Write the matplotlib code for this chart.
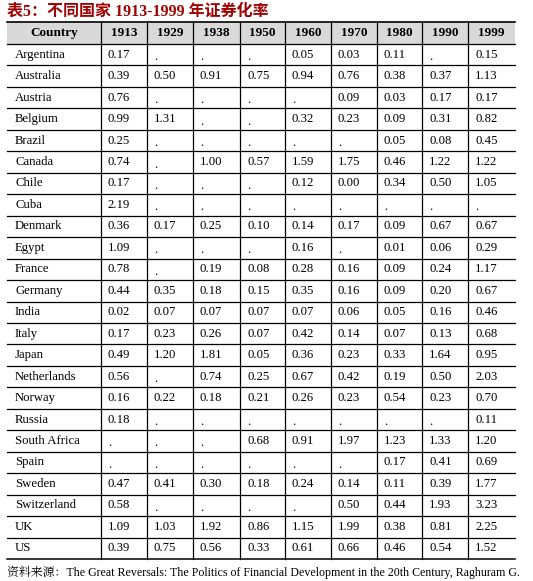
import matplotlib.pyplot as plt

countries = ["Argentina", "Australia", "Austria", "Belgium", "Brazil", "Canada", "Chile",
             "Cuba", "Denmark", "Egypt", "France", "Germany", "India", "Italy", "Japan",
             "Netherlands", "Norway", "Russia", "South Africa", "Spain", "Sweden",
             "Switzerland", "UK", "US"]
years = ["1913", "1929", "1938", "1950", "1960", "1970", "1980", "1990", "1999"]
N = None
v1913 = [0.17, 0.39, 0.76, 0.99, 0.25, 0.74, 0.17, 2.19, 0.36, 1.09, 0.78, 0.44, 0.02, 0.17, 0.49, 0.56, 0.16, 0.18, N, N, 0.47, 0.58, 1.09, 0.39]
v1929 = [N, 0.50, N, 1.31, N, N, N, N, 0.17, N, N, 0.35, 0.07, 0.23, 1.20, N, 0.22, N, N, N, 0.41, N, 1.03, 0.75]
v1938 = [N, 0.91, N, N, N, 1.00, N, N, 0.25, N, 0.19, 0.18, 0.07, 0.26, 1.81, 0.74, 0.18, N, N, N, 0.30, N, 1.92, 0.56]
v1950 = [N, 0.75, N, N, N, 0.57, N, N, 0.10, N, 0.08, 0.15, 0.07, 0.07, 0.05, 0.25, 0.21, N, 0.68, N, 0.18, N, 0.86, 0.33]
v1960 = [0.05, 0.94, N, 0.32, N, 1.59, 0.12, N, 0.14, 0.16, 0.28, 0.35, 0.07, 0.42, 0.36, 0.67, 0.26, N, 0.91, N, 0.24, N, 1.15, 0.61]
v1970 = [0.03, 0.76, 0.09, 0.23, N, 1.75, 0.00, N, 0.17, N, 0.16, 0.16, 0.06, 0.14, 0.23, 0.42, 0.23, N, 1.97, N, 0.14, 0.50, 1.99, 0.66]
v1980 = [0.11, 0.38, 0.03, 0.09, 0.05, 0.46, 0.34, N, 0.09, 0.01, 0.09, 0.09, 0.05, 0.07, 0.33, 0.19, 0.54, N, 1.23, 0.17, 0.11, 0.44, 0.38, 0.46]
v1990 = [N, 0.37, 0.17, 0.31, 0.08, 1.22, 0.50, N, 0.67, 0.06, 0.24, 0.20, 0.16, 0.13, 1.64, 0.50, 0.23, N, 1.33, 0.41, 0.39, 1.93, 0.81, 0.54]
v1999 = [0.15, 1.13, 0.17, 0.82, 0.45, 1.22, 1.05, N, 0.67, 0.29, 1.17, 0.67, 0.46, 0.68, 0.95, 2.03, 0.70, 0.11, 1.20, 0.69, 1.77, 3.23, 2.25, 1.52]
columns = [v1913, v1929, v1938, v1950, v1960, v1970, v1980, v1990, v1999]

title = "表5：不同国家 1913-1999 年证券化率"
source = "资料来源：The Great Reversals: The Politics of Financial Development in the 20th Century, Raghuram G."

W, H = 533, 581
fig = plt.figure(figsize=(W / 100, H / 100), dpi=100)
ax = fig.add_axes([0, 0, 1, 1])
ax.set_xlim(0, W)
ax.set_ylim(H, 0)
ax.axis("off")

serif = ["Liberation Serif", "Noto Serif CJK SC", "Noto Sans CJK SC"]
xs = [7, 101, 147, 193, 240, 285, 331, 377, 422, 468, 515]
top, head_bot, bot = 22, 44, 559
rh = (bot - head_bot) / len(countries)

ax.text(7, 12, title, color="#a00000", fontsize=11.5, fontweight="bold",
        family=["Liberation Serif", "Noto Sans CJK SC"], va="center")

ax.add_patch(plt.Rectangle((xs[0], top), xs[-1] - xs[0], head_bot - top, color="#d9d9d9", lw=0))
ax.plot([xs[0], xs[-1]], [top, top], color="black", lw=1.2)
ax.plot([xs[0], xs[-1]], [head_bot, head_bot], color="black", lw=0.9)
for i in range(len(countries)):
    y = head_bot + (i + 1) * rh
    ax.plot([xs[0], xs[-1]], [y, y], color="black", lw=0.9 if i < len(countries) - 1 else 1.1)
for x in xs[1:-1]:
    ax.plot([x, x], [top, bot], color="black", lw=0.9)

hy = (top + head_bot) / 2
ax.text((xs[0] + xs[1]) / 2, hy, "Country", ha="center", va="center", fontsize=9.5, fontweight="bold", family=serif)
for j, yr in enumerate(years):
    ax.text((xs[j + 1] + xs[j + 2]) / 2, hy, yr, ha="center", va="center", fontsize=9.5, fontweight="bold", family=serif)

for i, c in enumerate(countries):
    y = head_bot + (i + 0.5) * rh
    ax.text(xs[0] + 8, y, c, va="center", fontsize=9.2, family=serif)
    for j, col in enumerate(columns):
        val = col[i]
        s = "." if val is None else f"{val:.2f}"
        ax.text(xs[j + 1] + 7, y + (2.5 if val is None else 0), s, va="center", fontsize=9.2, family=serif)

ax.text(7, 572, source, va="center", fontsize=8.6, family=serif)

fig.savefig("out.png", dpi=100)
